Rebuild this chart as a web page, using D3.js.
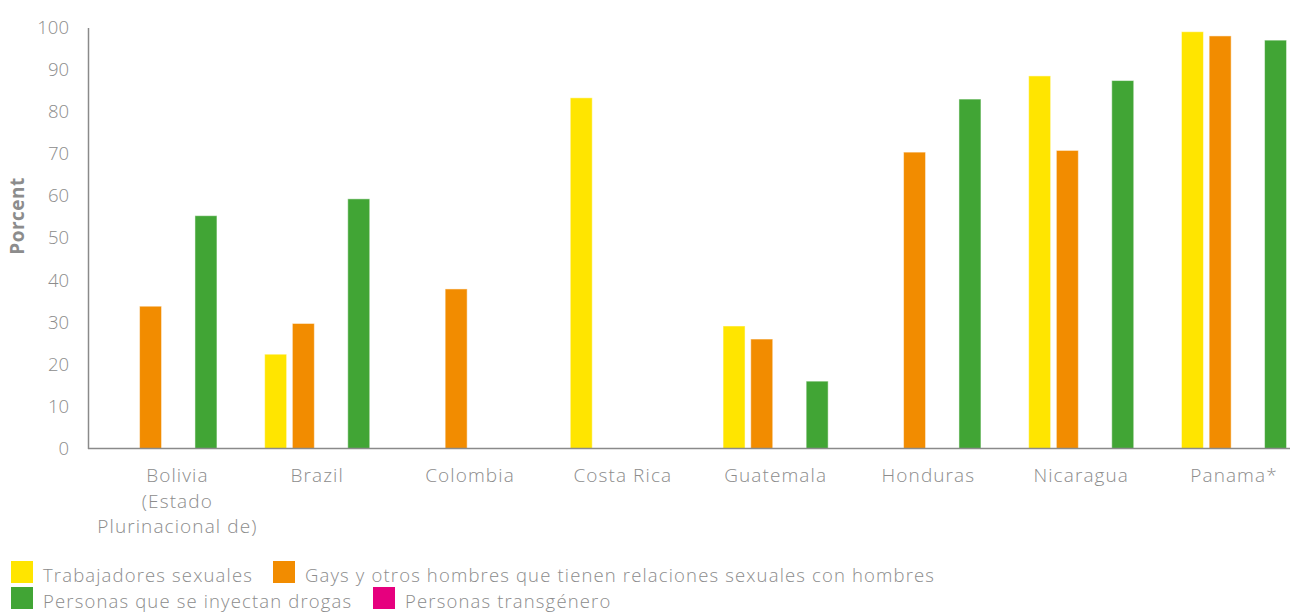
<!DOCTYPE html>
<html><head><meta charset="utf-8">
<script src="https://cdn.jsdelivr.net/npm/d3@7"></script>
<style>
body{margin:0;background:#fff;}
svg{display:block;font-family:"Open Sans",Lato,sans-serif;}
</style></head>
<body>
<svg id="chart" width="1290" height="614"></svg>
<script>
const categories = [["Bolivia","(Estado","Plurinacional de)"],["Brazil"],["Colombia"],["Costa Rica"],["Guatemala"],["Honduras"],["Nicaragua"],["Panama*"]];
const seriesNames = ["Trabajadores sexuales","Gays y otros hombres que tienen relaciones sexuales con hombres","Personas transgénero","Personas que se inyectan drogas"];
const seriesColors = ["#FFE500","#F28C00","#E6007E","#41A535"];
const trabajadores = [null,22.4,null,83.3,29.1,null,88.5,99.0];
const gays = [33.8,29.7,37.9,null,26.0,70.4,70.8,98.0];
const transgenero = [null,null,null,null,null,null,null,null];
const drogas = [55.3,59.3,null,null,16.0,83.0,87.4,97.0];
const yTicks = [0,10,20,30,40,50,60,70,80,90,100];
const legendRows = [[0,1],[3,2]];

const values = [trabajadores,gays,transgenero,drogas];
const svg = d3.select("#chart");
const mLeft = 88, mBottom = 448.5, mTop = 27.5;
const groupStep = 152.8;
const x0 = d3.scaleBand().domain(d3.range(categories.length)).range([mLeft, mLeft + groupStep*categories.length]).padding(0);
const x1 = d3.scaleBand().domain(d3.range(seriesNames.length)).range([0, x0.bandwidth()]).paddingInner(0.206).paddingOuter(0.861);
const y = d3.scaleLinear().domain([0,100]).range([mBottom, mTop]);

// bars
categories.forEach((c,i)=>{
  values.forEach((arr,s)=>{
    const v = arr[i];
    if(v==null) return;
    svg.append("rect")
      .attr("x", x0(i)+x1(s))
      .attr("y", y(v))
      .attr("width", x1.bandwidth())
      .attr("height", y(0)-y(v))
      .attr("fill", seriesColors[s])
      .attr("stroke","rgba(255,255,255,0.5)")
      .attr("stroke-width",1);
  });
});

// y axis
const yAxis = d3.axisLeft(y).tickValues(yTicks).tickSize(0).tickPadding(19);
const yg = svg.append("g").attr("transform",`translate(${mLeft},0)`).call(yAxis);
yg.select(".domain").attr("stroke","#8a8a8a").attr("stroke-width",1.5);
yg.selectAll("text").attr("fill","#8c8c8c").style("font-size","18.5px").style("font-weight","300").style("font-family","'Open Sans',sans-serif");

// x axis line
svg.append("line").attr("x1",mLeft).attr("x2",1290).attr("y1",mBottom).attr("y2",mBottom)
  .attr("stroke","#8a8a8a").attr("stroke-width",1.5);

// x labels
categories.forEach((lines,i)=>{
  const cx = x0(i)+x0.bandwidth()/2 + (lines.length>1?13:0);
  const t = svg.append("text").attr("x",cx).attr("y",482).attr("text-anchor","middle")
    .attr("fill","#8c8c8c").style("font-size","19px").style("font-weight","300").style("letter-spacing","1.1px");
  lines.forEach((l,k)=>{
    t.append("tspan").attr("x",cx).attr("dy",k===0?0:25.5).text(l);
  });
});

// y title
svg.append("text").attr("transform","translate(24,216) rotate(-90)").attr("text-anchor","middle")
  .attr("fill","#8c8c8c").style("font-size","19px").style("font-weight","700").style("letter-spacing","0.5px").text("Porcent");

// legend
const rowY = [572, 598];
const rowX = [[11,273],[11,373]];
legendRows.forEach((row,r)=>{
  row.forEach((s,k)=>{
    const lx = rowX[r][k];
    svg.append("rect").attr("x",lx).attr("y",rowY[r]-11).attr("width",22).attr("height",22).attr("fill",seriesColors[s]);
    svg.append("text").attr("x",lx+32).attr("y",rowY[r]+10).attr("fill","#8c8c8c")
      .style("font-size","18.5px").style("font-weight","300").style("letter-spacing","1.15px").text(seriesNames[s]);
  });
});
</script>
</body></html>
